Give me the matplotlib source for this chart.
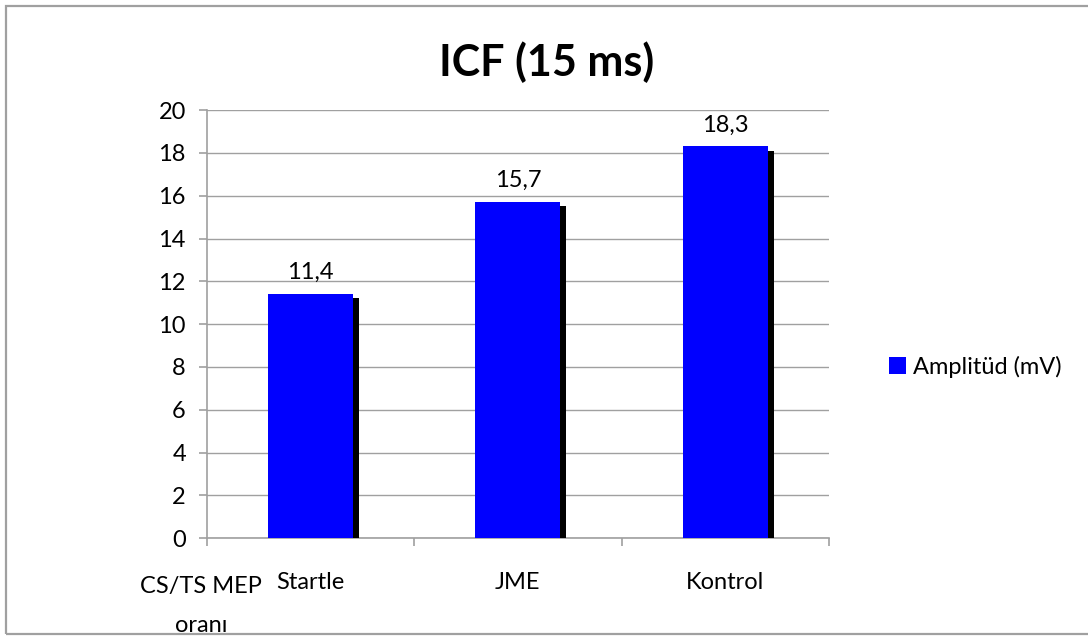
import numpy as np
import matplotlib.pyplot as plt
from matplotlib import patheffects
from matplotlib.patches import Rectangle, Patch

# data to plot
categories = ['Startle', 'JME', 'Kontrol']
amplitude = [11.4, 15.7, 18.3]
value_labels = ['11,4', '15,7', '18,3']
y_ticks = [0, 2, 4, 6, 8, 10, 12, 14, 16, 18, 20]

plt.rcParams['font.family'] = ['Lato', 'DejaVu Sans']
grey = '#a0a0a0'
blue = '#0000ff'
fs = 17

fig = plt.figure(figsize=(10.88, 6.4), dpi=100)
ax = fig.add_axes([0.190, 0.159, 0.572, 0.669])

index = np.arange(len(categories))
shadow = [patheffects.SimplePatchShadow(offset=(4.3, -2.9), shadow_rgbFace='black', alpha=1.0),
          patheffects.Normal()]
bars = ax.bar(index, amplitude, 0.41, color=blue, zorder=3)
for b in bars:
    b.set_path_effects(shadow)

for i, (v, txt) in enumerate(zip(amplitude, value_labels)):
    ax.annotate(txt, (index[i], v), xytext=(0, 8), textcoords='offset points',
                ha='center', va='bottom', fontsize=fs)

ax.set_xlim(-0.5, len(categories) - 0.5)
ax.set_ylim(0, 20)
ax.set_yticks(y_ticks)
ax.set_yticklabels([str(t) for t in y_ticks])
ax.set_xticks(index)
ax.set_xticklabels(categories)
ax.set_xticks(np.arange(len(categories) + 1) - 0.5, minor=True)

ax.grid(axis='y', color=grey, lw=1.0, zorder=0)
ax.set_axisbelow(True)
for s in ['top', 'right']:
    ax.spines[s].set_visible(False)
for s in ['left', 'bottom']:
    ax.spines[s].set_color(grey)
    ax.spines[s].set_linewidth(1.2)

ax.tick_params(axis='y', length=6, color=grey, width=1.2, labelsize=fs, pad=9)
ax.tick_params(axis='x', which='major', length=0, labelsize=fs, pad=24)
ax.tick_params(axis='x', which='minor', length=6, color=grey, width=1.2)

fig.text(0.502, 0.903, 'ICF (15 ms)', ha='center', va='center',
         fontsize=31, fontweight='bold')
fig.text(0.185, (640 - 593) / 640, 'CS/TS MEP', ha='center', va='baseline',
         fontsize=fs)
fig.text(0.185, (640 - 632) / 640, 'oranı', ha='center', va='baseline',
         fontsize=fs)

handle = Patch(facecolor=blue, edgecolor='none', label='Amplitüd (mV)')
fig.legend(handles=[handle], loc='center left', bbox_to_anchor=(0.808, 0.427),
           frameon=False, fontsize=fs, handlelength=0.75, handleheight=0.75,
           handletextpad=0.3, borderaxespad=0)

fig.patches.append(Rectangle((6 / 1088, 6 / 640), 1.1, 628 / 640,
                             transform=fig.transFigure, fill=False,
                             edgecolor=grey, lw=1.6))

plt.savefig('out.png', dpi=100)
